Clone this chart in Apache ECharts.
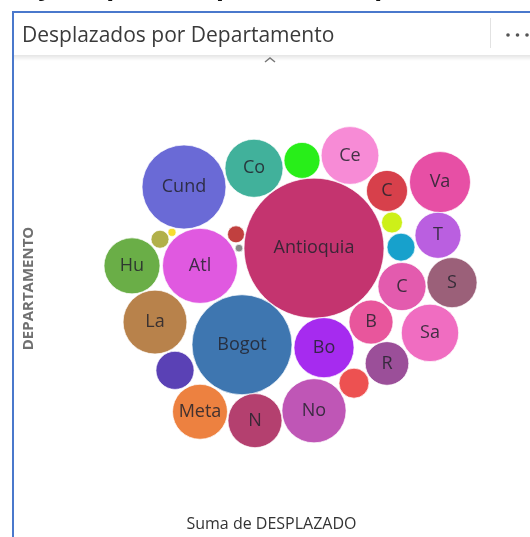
<!DOCTYPE html>
<html>
<head>
<meta charset="utf-8">
<script src="https://cdn.jsdelivr.net/npm/echarts@6/dist/echarts.min.js"></script>
<style>
  html, body { margin: 0; padding: 0; background: #fff; }
  #chart { width: 530px; height: 537px; }
</style>
</head>
<body>
<div id="chart"></div>
<script>
// labels shown inside bubbles ('' = bubble too small for a label)
var labels = ['Antioquia', 'Bogot', 'Cund', 'Atl', 'No', 'La', 'Va', 'Bo', 'Co', 'Ce',
  'Sa', 'Hu', 'Meta', 'N', 'S', 'C', 'T', 'B', 'R', 'C',
  '', '', '', '', '', '', '', '', ''];
// Suma de DESPLAZADO (bubble size)
var desplazados = [1000000, 510000, 360000, 287000, 210000, 208000, 190000, 184000, 172000, 170000,
  168000, 160000, 154000, 149000, 128000, 118000, 108000, 99000, 97000, 86000,
  74000, 66000, 46000, 40000, 22500, 16500, 14700, 3300, 3000];
// packed-bubble layout coordinates (arbitrary units)
var packX = [54.5, 36.5, 22, 26, 54.5, 14.75, 86, 57, 39.5, 63.5,
  83.5, 9, 26, 39.75, 89, 76.5, 85.5, 68.75, 72.75, 72.75,
  19.75, 51.5, 64.5, 76.25, 74, 16, 35, 19, 35.75];
var packY = [54.75, 30.25, 70.25, 50.25, 13.5, 36, 71.5, 29.5, 75, 78.25,
  33.25, 50.25, 13.25, 11, 46, 45, 58, 36, 25.5, 69.25,
  23.75, 77, 20.5, 55, 61.25, 57, 58.25, 58.75, 54.75];
var colors = ['#c4346f', '#3e76b0', '#6a6ad6', '#e059e0', '#bf56b6', '#b8824b', '#e74fa5', '#a62bef', '#41b19b', '#f78bd6',
  '#f06dc1', '#6aae47', '#ed8140', '#b4406f', '#9b6079', '#e35bae', '#ba5fe0', '#e8569c', '#9b4f99', '#d7404b',
  '#5a41b5', '#28ee19', '#ed5151', '#17a1cc', '#cdf019', '#b1b049', '#c1403f', '#f7dc31', '#8a8a8a'];

var SIZE_K = 0.14; // diameter per sqrt(value)

var chart = echarts.init(document.getElementById('chart'), null, { renderer: 'canvas' });

var data = labels.map(function (l, i) {
  return {
    value: [packX[i], packY[i], desplazados[i]],
    name: l,
    itemStyle: { color: colors[i] }
  };
});

var fontFam = '"Open Sans", Lato, sans-serif';

chart.setOption({
  animation: false,
  title: {
    text: 'Desplazados por Departamento',
    left: 17, top: 21,
    textStyle: { fontFamily: fontFam, fontSize: 21, fontWeight: 'normal', color: '#3a3a3a' }
  },
  grid: { left: 96, top: 119, width: 400, height: 350 },
  xAxis: {
    type: 'value', min: 0, max: 100,
    name: 'Suma de DESPLAZADO',
    nameLocation: 'middle', nameGap: 52,
    nameTextStyle: { fontFamily: fontFam, fontSize: 16, color: '#333', padding: [0, 49, 0, 0] },
    axisLine: { show: false }, axisTick: { show: false },
    axisLabel: { show: false }, splitLine: { show: false }
  },
  yAxis: {
    type: 'value', min: 0, max: 87.5,
    name: 'DEPARTAMENTO',
    nameLocation: 'middle', nameGap: 60, nameRotate: 90,
    nameTextStyle: { fontFamily: fontFam, fontSize: 15, fontWeight: 'bold', color: '#707070', padding: [0, 0, 0, 6] },
    axisLine: { show: false }, axisTick: { show: false },
    axisLabel: { show: false }, splitLine: { show: false }
  },
  series: [{
    type: 'scatter',
    data: data,
    symbolSize: function (v) { return Math.sqrt(v[2]) * SIZE_K; },
    itemStyle: { borderColor: 'rgba(255,255,255,0.7)', borderWidth: 1, opacity: 1 },
    label: {
      show: true,
      position: 'inside',
      formatter: function (p) { return p.name; },
      fontFamily: fontFam,
      fontSize: 18,
      color: 'rgba(35,35,45,0.85)'
    },
    emphasis: { disabled: true }
  }],
  graphic: [
    // cropped heading above the widget
    { type: 'text', left: -4, top: -26, style: { text: 'Gráficas por Recepción de desplazados', font: 'italic bold 27px ' + fontFam, fill: '#111' } },
    // widget frame
    { type: 'line', shape: { x1: 13, y1: 12, x2: 530, y2: 12 }, style: { stroke: '#4a78cc', lineWidth: 2 } },
    { type: 'line', shape: { x1: 13, y1: 11, x2: 13, y2: 537 }, style: { stroke: '#4a78cc', lineWidth: 2 } },
    // header separator and menu dots
    { type: 'line', shape: { x1: 490.5, y1: 18, x2: 490.5, y2: 48 }, style: { stroke: '#e2e2e2', lineWidth: 1 } },
    { type: 'circle', shape: { cx: 508, cy: 35, r: 1.8 }, style: { fill: '#555' } },
    { type: 'circle', shape: { cx: 517.5, cy: 35, r: 1.8 }, style: { fill: '#555' } },
    { type: 'circle', shape: { cx: 527, cy: 35, r: 1.8 }, style: { fill: '#555' } },
    // header shadow
    {
      type: 'rect', shape: { x: 14, y: 55, width: 516, height: 6 },
      style: {
        fill: new echarts.graphic.LinearGradient(0, 0, 0, 1, [
          { offset: 0, color: 'rgba(0,0,0,0.10)' },
          { offset: 1, color: 'rgba(0,0,0,0)' }
        ])
      }
    },
    { type: 'polyline', shape: { points: [[265, 62], [270, 58], [275, 62]] }, style: { stroke: '#777', lineWidth: 1.5, fill: null } }
  ]
});
window.addEventListener('resize', function () { chart.resize(); });
</script>
</body>
</html>
